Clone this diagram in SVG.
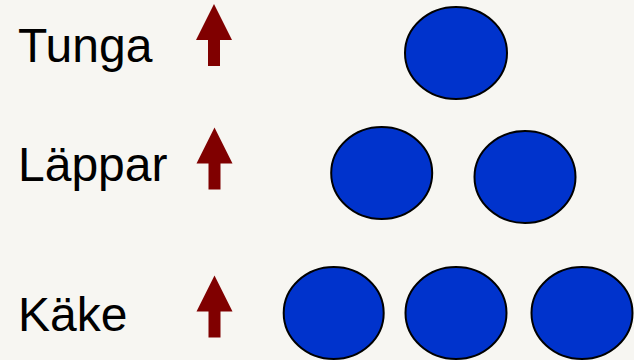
<svg xmlns="http://www.w3.org/2000/svg" width="634" height="360" viewBox="0 0 634 360">
  <defs>
    <style>
      .label { font-family: "Liberation Sans", Arial, sans-serif; font-size: 48px; fill: #000000; }
      .dot { fill: #0033cc; stroke: #000000; stroke-width: 2; }
      .up { fill: #800000; }
    </style>
    <!-- upward block arrow, tip at origin -->
    <path id="uparrow" class="up" d="M0 0 L18 36 L6 36 L6 62 L-6 62 L-6 36 L-18 36 Z"/>
  </defs>
  <rect width="634" height="360" fill="#f7f6f2"/>

  <g id="row-tunga">
    <text class="label" x="18" y="62">Tunga</text>
    <use href="#uparrow" x="214" y="4"/>
    <ellipse class="dot" cx="456" cy="53" rx="51" ry="46"/>
  </g>

  <g id="row-lappar">
    <text class="label" x="18" y="181">Läppar</text>
    <use href="#uparrow" x="214.5" y="127.5"/>
    <ellipse class="dot" cx="381.7" cy="173" rx="50.5" ry="46"/>
    <ellipse class="dot" cx="525" cy="177" rx="50.5" ry="46"/>
  </g>

  <g id="row-kake">
    <text class="label" x="18" y="331">Käke</text>
    <use href="#uparrow" x="214.5" y="275.5"/>
    <ellipse class="dot" cx="333.7" cy="313" rx="50" ry="46"/>
    <ellipse class="dot" cx="456" cy="313" rx="50.5" ry="46"/>
    <ellipse class="dot" cx="582" cy="313" rx="50.5" ry="46"/>
  </g>

  <g id="connectors"/>
</svg>
